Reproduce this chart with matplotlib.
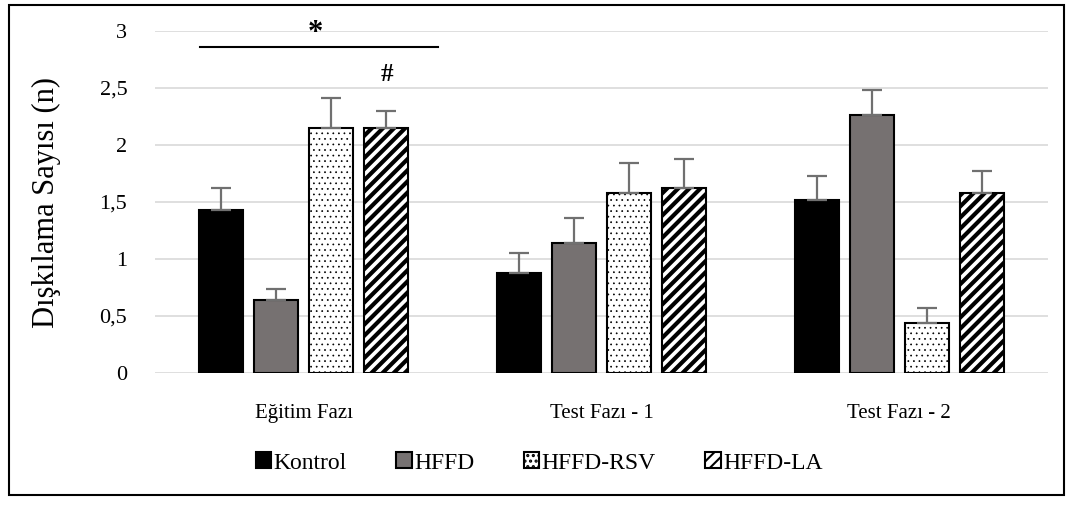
import numpy as np
import matplotlib.pyplot as plt
from matplotlib.patches import Rectangle

plt.rcParams['font.family'] = ['Liberation Serif', 'DejaVu Serif']
plt.rcParams['hatch.linewidth'] = 3.0

# datos
fazlar = ["Eğitim Fazı", "Test Fazı - 1", "Test Fazı - 2"]
gruplar = ["Kontrol", "HFFD", "HFFD-RSV", "HFFD-LA"]
kontrol = [1.43, 0.88, 1.52]
hffd = [0.64, 1.14, 2.26]
hffd_rsv = [2.15, 1.58, 0.44]
hffd_la = [2.15, 1.62, 1.58]
err_kontrol = [0.19, 0.17, 0.21]
err_hffd = [0.10, 0.22, 0.22]
err_rsv = [0.26, 0.26, 0.13]
err_la = [0.15, 0.26, 0.19]

valores = [kontrol, hffd, hffd_rsv, hffd_la]
errores = [err_kontrol, err_hffd, err_rsv, err_la]
colores = ["black", "#767171", "white", "white"]
tramas = [None, None, "...", "///"]
grosor_trama = [1.0, 1.0, 0.5, 3.0]

fig = plt.figure(figsize=(10.73, 5.05), dpi=100)
ax = fig.add_axes([0.1445, 0.2614, 0.8322, 0.6772])

x = np.arange(len(fazlar))
ancho = 0.148
paso = 0.185
for i in range(4):
    pos = x + (i - 1.5) * paso
    barras = ax.bar(pos, valores[i], width=ancho, color=colores[i], edgecolor="black",
                    linewidth=1.5, hatch=tramas[i], label=gruplar[i], zorder=3)
    for b in barras:
        if hasattr(b, "set_hatch_linewidth"):
            b.set_hatch_linewidth(grosor_trama[i])
    ax.errorbar(pos, valores[i], yerr=[np.zeros(3), errores[i]], fmt="none",
                ecolor="#707070", elinewidth=1.6, capsize=7, capthick=1.6, zorder=4)

ax.set_ylim(0, 3)
ax.set_xlim(-0.5, 2.5)
ax.set_yticks([0, 0.5, 1, 1.5, 2, 2.5, 3])
ax.set_yticklabels(["0", "0,5", "1", "1,5", "2", "2,5", "3"], fontsize=16)
ax.set_xticks(x)
ax.set_xticklabels(fazlar, fontsize=15)
ax.tick_params(axis="y", length=0, pad=20)
ax.tick_params(axis="x", length=0, pad=22)
ax.grid(axis="y", color="#d9d9d9", linewidth=1.2, zorder=0)
for s in ax.spines.values():
    s.set_visible(False)
ax.set_ylabel("Dışkılama Sayısı (n)", fontsize=22, labelpad=28)

# anotaciones
ax.plot([x[0] - 0.35, x[0] + 0.45], [2.86, 2.86], color="black", linewidth=1.5)
ax.text(x[0] + 0.04, 2.98, "*", ha="center", va="center", fontsize=22, fontweight="bold")
ax.text(x[0] + 0.28, 2.62, "#", ha="center", va="center", fontsize=18, fontweight="bold")

leg = ax.legend(loc="upper center", bbox_to_anchor=(0.43, -0.17), ncol=4, frameon=False,
                fontsize=17, handlelength=0.65, handleheight=0.65, handletextpad=0.1,
                columnspacing=2.1)
for h in leg.legend_handles:
    if hasattr(h, "set_hatch_linewidth"):
        h.set_hatch_linewidth(1.5)

fig.patches.append(Rectangle((0.008, 0.02), 0.984, 0.97, transform=fig.transFigure,
                             fill=False, edgecolor="black", linewidth=1.5))

fig.savefig("out.png", dpi=100)
